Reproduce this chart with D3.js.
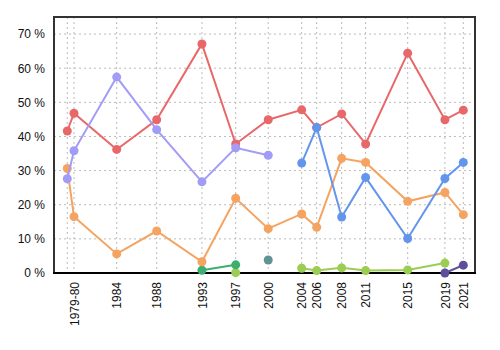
<!DOCTYPE html>
<html>
<head>
<meta charset="utf-8">
<script src="https://cdn.jsdelivr.net/npm/d3@7"></script>
<style>
    body { margin: 0; background: #fff; }
    text { font-family: "Liberation Sans", Arial, sans-serif; }
</style>
</head>
<body>
<div id="chart"></div>
<script>
// election dates as decimal years
const dates = [1979.2, 1979.91, 1984.44, 1988.68, 1993.48, 1997.06, 2000.51, 2004.06, 2005.65, 2008.3, 2010.84, 2015.3, 2019.25, 2021.2];
const tickLabels = ['', '1979-80', '1984', '1988', '1993', '1997', '2000', '2004', '2006', '2008', '2011', '2015', '2019', '2021'];
const yTicks = [0, 10, 20, 30, 40, 50, 60, 70];

const redValues = [41.6, 46.8, 36.2, 44.9, 67.1, 37.8, 44.9, 47.8, 42.6, 46.6, 37.8, 64.4, 44.9, 47.7];
const lavenderValues = [27.6, 35.8, 57.4, 42.0, 26.7, 36.7, 34.5, null, null, null, null, null, null, null];
const orangeValues = [30.6, 16.5, 5.6, 12.3, 3.3, 21.9, 13.0, 17.3, 13.4, 33.6, 32.4, 21.0, 23.6, 17.1];
const blueValues = [null, null, null, null, null, null, null, 32.2, 42.6, 16.4, 28.0, 10.1, 27.7, 32.4];
const greenValues = [null, null, null, null, 0.8, 2.4, null, null, null, null, null, null, null, null];
const limeValues = [null, null, null, null, null, 0.1, null, 1.4, 0.7, 1.5, 0.7, 0.9, 2.9, null];
const tealValues = [null, null, null, null, null, null, 3.8, null, null, null, null, null, null, null];
const purpleValues = [null, null, null, null, null, null, null, null, null, null, null, null, 0.0, 2.3];

// drawing order: later entries are painted on top
const series = [
    { values: limeValues, color: '#9acd52' },
    { values: greenValues, color: '#3cae6e' },
    { values: tealValues, color: '#5f9494' },
    { values: purpleValues, color: '#5c4e9c' },
    { values: redValues, color: '#e8686a' },
    { values: orangeValues, color: '#f4a460' },
    { values: lavenderValues, color: '#a29cf6' },
    { values: blueValues, color: '#6495ed' }
];

const width = 500;
const height = 350;
const margin = { top: 17, right: 25, bottom: 77, left: 54 };

const svg = d3.select('#chart')
    .append('svg')
    .attr('width', width)
    .attr('height', height);

const x = d3.scaleLinear()
    .domain([1977.79, 2022.44])
    .range([margin.left, width - margin.right]);

const y = d3.scaleLinear()
    .domain([0, 75])
    .range([height - margin.bottom, margin.top]);

// grid
const grid = svg.append('g').attr('class', 'grid');
grid.selectAll('line.vx')
    .data(dates)
    .enter()
    .append('line')
    .attr('x1', d => x(d))
    .attr('x2', d => x(d))
    .attr('y1', y(75))
    .attr('y2', y(0))
    .attr('stroke', '#bbb')
    .attr('stroke-dasharray', '2,3');
grid.selectAll('line.hy')
    .data(yTicks.slice(1))
    .enter()
    .append('line')
    .attr('x1', x.range()[0])
    .attr('x2', x.range()[1])
    .attr('y1', d => y(d))
    .attr('y2', d => y(d))
    .attr('stroke', '#bbb')
    .attr('stroke-dasharray', '2,3');

// frame
svg.append('path')
    .attr('d', `M${x.range()[0]},${y(0)}V${y(75)}H${x.range()[1]}V${y(0)}`)
    .attr('fill', 'none')
    .attr('stroke', '#333')
    .attr('stroke-width', 2);

svg.append('line')
    .attr('x1', x.range()[0] - 1)
    .attr('x2', x.range()[1] + 1)
    .attr('y1', y(0))
    .attr('y2', y(0))
    .attr('stroke', '#000')
    .attr('stroke-width', 2);

// y axis labels
const yAxis = d3.axisLeft(y)
    .tickValues(yTicks)
    .tickSize(0)
    .tickPadding(9)
    .tickFormat(d => `${d} %`);
svg.append('g')
    .attr('transform', `translate(${margin.left},0)`)
    .call(yAxis)
    .call(g => g.select('.domain').remove())
    .selectAll('text')
    .attr('font-size', 12)
    .attr('fill', '#111');

// x axis labels
const xAxis = d3.axisBottom(x)
    .tickValues(dates)
    .tickSize(0)
    .tickFormat((d, i) => tickLabels[i]);
svg.append('g')
    .attr('transform', `translate(0,${y(0)})`)
    .call(xAxis)
    .call(g => g.select('.domain').remove())
    .selectAll('text')
    .attr('font-size', 12)
    .attr('fill', '#111')
    .attr('text-anchor', 'end')
    .attr('transform', 'rotate(-90)')
    .attr('x', -9)
    .attr('y', 0)
    .attr('dy', '0.35em');

// lines
const line = d3.line()
    .defined(d => d.v !== null)
    .x(d => x(d.t))
    .y(d => y(d.v));

series.forEach(s => {
    const pts = dates.map((t, i) => ({ t: t, v: s.values[i] }));
    svg.append('path')
        .datum(pts)
        .attr('fill', 'none')
        .attr('stroke', s.color)
        .attr('stroke-width', 2)
        .attr('d', line);
    svg.append('g')
        .selectAll('circle')
        .data(pts.filter(d => d.v !== null))
        .enter()
        .append('circle')
        .attr('cx', d => x(d.t))
        .attr('cy', d => y(d.v))
        .attr('r', 4.5)
        .attr('fill', s.color);
});
</script>
</body>
</html>
